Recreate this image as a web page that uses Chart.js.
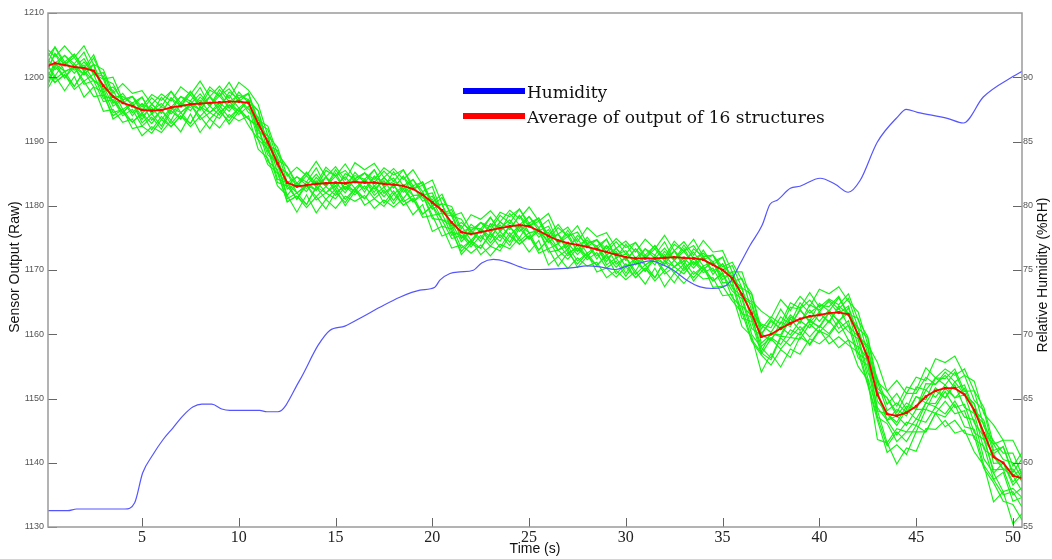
<!DOCTYPE html>
<html>
<head>
<meta charset="utf-8">
<script src="https://cdn.jsdelivr.net/npm/chart.js@4.4.0/dist/chart.umd.min.js"></script>
<style>
  html, body { margin: 0; padding: 0; background: #fff; }
  #chart { display: block; }
</style>
</head>
<body>
<canvas id="chart" width="1052" height="559"></canvas>
<script>
/* global Chart */

// time axis shared by the 16 structures and their average (s)
const timeS = [0.14,
  0.5, 1, 1.5, 2, 2.5, 3, 3.5, 4, 4.5, 5, 5.5, 6, 6.5, 7, 7.5, 8, 8.5, 9, 9.5, 10,
  10.5, 11, 11.5, 12, 12.5, 13, 13.5, 14, 14.5, 15, 15.5, 16, 16.5, 17, 17.5, 18, 18.5, 19, 19.5, 20,
  20.5, 21, 21.5, 22, 22.5, 23, 23.5, 24, 24.5, 25, 25.5, 26, 26.5, 27, 27.5, 28, 28.5, 29, 29.5, 30,
  30.5, 31, 31.5, 32, 32.5, 33, 33.5, 34, 34.5, 35, 35.5, 36, 36.5, 37, 37.5, 38, 38.5, 39, 39.5, 40,
  40.5, 41, 41.5, 42, 42.5, 43, 43.5, 44, 44.5, 45, 45.5, 46, 46.5, 47, 47.5, 48, 48.5, 49, 49.5, 50,
  50.47];

const avgOutput = [
  1201.8, 1202.2, 1201.9, 1201.6, 1201.4, 1201.0, 1198.7, 1197.0, 1196.0, 1195.5, 1194.9, 1194.8,
  1194.9, 1195.3, 1195.5, 1195.8, 1195.9, 1196.0, 1196.1, 1196.2, 1196.2, 1196.0, 1192.8, 1189.9,
  1186.6, 1183.6, 1183.0, 1183.2, 1183.4, 1183.5, 1183.6, 1183.5, 1183.7, 1183.6, 1183.6, 1183.4,
  1183.3, 1183.1, 1182.6, 1181.7, 1180.5, 1179.3, 1177.4, 1175.9, 1175.6, 1175.9, 1176.2, 1176.5,
  1176.8, 1177.0, 1176.8, 1176.1, 1175.3, 1174.6, 1174.2, 1173.9, 1173.6, 1173.2, 1172.8, 1172.4,
  1172.0, 1171.8, 1171.8, 1171.8, 1171.9, 1172.0, 1171.9, 1171.8, 1171.6, 1170.8, 1170.0, 1168.7,
  1166.2, 1163.2, 1159.6, 1160.0, 1160.9, 1161.7, 1162.4, 1162.8, 1163.0, 1163.3, 1163.4, 1163.1,
  1160.0, 1156.4, 1150.6, 1147.6, 1147.3, 1147.8, 1148.8, 1150.3, 1151.2, 1151.6, 1151.6, 1150.6,
  1148.2, 1144.6, 1140.9, 1140.0, 1138.0, 1137.6];

// raw output of each of the 16 structures
const g01 = [
  1204.3, 1203.2, 1204.9, 1203.1, 1204.9, 1202.0, 1201.2, 1197.5, 1199.0, 1197.5, 1197.9, 1195.8,
  1197.4, 1196.3, 1198.5, 1197.3, 1199.4, 1197.0, 1198.6, 1196.7, 1199.2, 1198.0, 1195.8, 1190.9,
  1189.1, 1184.6, 1186.0, 1184.7, 1186.9, 1184.5, 1186.1, 1184.0, 1186.7, 1185.6, 1186.6, 1184.4,
  1185.8, 1184.1, 1185.6, 1183.2, 1184.0, 1180.3, 1179.9, 1176.4, 1178.6, 1177.9, 1179.2, 1177.5,
  1179.3, 1178.0, 1179.8, 1177.6, 1178.8, 1175.6, 1176.7, 1174.4, 1176.6, 1175.2, 1175.8, 1173.4,
  1174.5, 1172.8, 1174.8, 1173.3, 1175.4, 1173.0, 1174.4, 1172.3, 1174.6, 1172.8, 1173.0, 1169.7,
  1169.7, 1165.2, 1163.6, 1162.5, 1165.4, 1163.7, 1165.9, 1164.3, 1167.0, 1166.3, 1167.4, 1165.1,
  1163.5, 1158.4, 1155.6, 1151.1, 1152.8, 1150.8, 1153.3, 1152.8, 1156.2, 1155.6, 1156.6, 1153.6,
  1152.7, 1147.6, 1145.9, 1143.5, 1143.5, 1140.6];
const g02 = [
  1203.3, 1204.7, 1202.4, 1203.6, 1201.4, 1203.5, 1199.7, 1200.0, 1196.5, 1197.0, 1195.4, 1197.3,
  1196.4, 1197.8, 1196.0, 1197.8, 1195.9, 1198.5, 1197.1, 1199.2, 1196.7, 1197.5, 1193.3, 1192.4,
  1188.1, 1186.1, 1183.5, 1185.2, 1183.4, 1186.0, 1184.6, 1186.5, 1184.2, 1185.1, 1184.1, 1185.9,
  1184.8, 1185.6, 1183.1, 1183.7, 1180.5, 1181.8, 1178.4, 1178.9, 1176.1, 1177.4, 1176.7, 1179.0,
  1178.3, 1179.5, 1177.3, 1178.1, 1175.3, 1177.1, 1175.2, 1176.9, 1174.1, 1174.7, 1173.3, 1174.9,
  1173.5, 1174.3, 1172.3, 1173.8, 1171.9, 1174.5, 1172.9, 1174.8, 1172.1, 1172.3, 1170.5, 1171.2,
  1168.4, 1166.4, 1160.8, 1162.7, 1161.6, 1164.9, 1164.1, 1166.5, 1164.2, 1165.5, 1164.6, 1166.3,
  1162.2, 1159.6, 1152.6, 1151.1, 1148.8, 1151.8, 1151.3, 1154.8, 1153.2, 1154.6, 1153.6, 1154.6,
  1151.2, 1148.6, 1142.9, 1143.5, 1139.5, 1141.6];
const g03 = [
  1202.3, 1204.7, 1201.9, 1203.1, 1200.9, 1203.0, 1199.7, 1199.0, 1196.0, 1197.0, 1194.9, 1196.8,
  1195.4, 1197.8, 1195.5, 1197.3, 1195.4, 1198.0, 1197.1, 1198.2, 1196.2, 1197.5, 1192.8, 1191.9,
  1187.1, 1186.1, 1183.0, 1184.7, 1182.9, 1185.5, 1184.6, 1185.5, 1183.7, 1185.1, 1183.6, 1185.4,
  1183.8, 1185.6, 1182.6, 1183.2, 1180.0, 1181.3, 1178.4, 1177.9, 1175.6, 1177.4, 1176.2, 1178.5,
  1177.3, 1179.5, 1176.8, 1177.6, 1174.8, 1176.6, 1175.2, 1175.9, 1173.6, 1174.7, 1172.8, 1174.4,
  1172.5, 1174.3, 1171.8, 1173.3, 1171.4, 1174.0, 1172.9, 1173.8, 1171.6, 1172.3, 1170.0, 1170.7,
  1167.2, 1166.2, 1160.1, 1162.0, 1160.9, 1164.2, 1163.9, 1165.3, 1163.5, 1165.3, 1163.9, 1165.6,
  1161.0, 1159.4, 1151.6, 1150.1, 1147.8, 1150.8, 1150.8, 1153.3, 1152.2, 1154.1, 1152.6, 1153.6,
  1149.7, 1148.1, 1141.9, 1142.5, 1138.5, 1140.6];
const g04 = [
  1203.8, 1202.2, 1203.4, 1202.1, 1203.9, 1200.5, 1200.7, 1197.0, 1197.0, 1196.0, 1196.9, 1194.3,
  1196.9, 1195.3, 1197.0, 1196.3, 1198.4, 1195.5, 1198.1, 1196.2, 1197.2, 1196.5, 1194.8, 1189.4,
  1188.6, 1183.6, 1184.5, 1183.7, 1185.9, 1183.0, 1185.6, 1183.5, 1184.7, 1184.1, 1185.6, 1182.9,
  1185.3, 1183.1, 1184.1, 1182.2, 1183.0, 1178.8, 1179.4, 1175.9, 1176.6, 1176.4, 1178.2, 1176.0,
  1178.8, 1177.0, 1178.3, 1176.6, 1177.8, 1174.1, 1176.2, 1173.9, 1174.6, 1173.7, 1174.8, 1171.9,
  1174.0, 1171.8, 1173.3, 1172.3, 1174.4, 1171.5, 1173.9, 1171.8, 1172.6, 1171.3, 1172.0, 1168.2,
  1168.7, 1163.7, 1161.6, 1161.0, 1163.9, 1161.7, 1164.9, 1163.3, 1164.5, 1164.3, 1165.9, 1163.1,
  1162.5, 1156.9, 1153.1, 1149.1, 1150.8, 1148.3, 1151.8, 1151.3, 1153.2, 1153.1, 1154.6, 1151.1,
  1151.2, 1145.6, 1143.4, 1141.5, 1141.5, 1138.1];
const g05 = [
  1201.3, 1203.7, 1201.9, 1203.6, 1200.9, 1202.0, 1197.7, 1198.5, 1196.5, 1197.0, 1194.4, 1195.8,
  1194.4, 1196.8, 1195.5, 1197.8, 1195.4, 1197.0, 1195.1, 1197.7, 1196.7, 1197.5, 1192.3, 1190.9,
  1186.1, 1185.1, 1183.0, 1185.2, 1182.9, 1184.5, 1182.6, 1185.0, 1184.2, 1185.1, 1183.1, 1184.4,
  1182.8, 1184.6, 1182.6, 1183.7, 1180.0, 1180.3, 1176.4, 1177.4, 1176.1, 1177.4, 1175.7, 1177.5,
  1176.3, 1178.5, 1176.8, 1178.1, 1174.8, 1175.6, 1173.2, 1175.4, 1174.1, 1174.7, 1172.3, 1173.4,
  1171.5, 1173.3, 1171.8, 1173.8, 1171.4, 1173.0, 1170.9, 1173.3, 1172.1, 1172.3, 1169.5, 1169.7,
  1166.0, 1165.0, 1159.9, 1162.3, 1160.7, 1163.0, 1161.7, 1164.6, 1163.8, 1165.1, 1163.2, 1164.4,
  1159.8, 1158.2, 1151.1, 1150.1, 1147.3, 1149.3, 1148.3, 1152.3, 1152.2, 1153.6, 1151.6, 1152.1,
  1148.2, 1146.6, 1141.4, 1142.5, 1138.0, 1139.1];
const g06 = [
  1201.3, 1203.7, 1200.9, 1201.6, 1200.4, 1202.0, 1198.2, 1198.0, 1195.0, 1196.0, 1193.4, 1195.8,
  1194.4, 1196.8, 1194.5, 1195.8, 1194.9, 1197.0, 1195.6, 1197.2, 1195.2, 1196.5, 1191.3, 1190.9,
  1186.1, 1185.1, 1182.0, 1183.2, 1182.4, 1184.5, 1183.1, 1184.5, 1182.7, 1184.1, 1182.1, 1184.4,
  1182.8, 1184.6, 1181.6, 1181.7, 1179.5, 1180.3, 1176.9, 1176.9, 1174.6, 1176.4, 1174.7, 1177.5,
  1176.3, 1178.5, 1175.8, 1176.1, 1174.3, 1175.6, 1173.7, 1174.9, 1172.6, 1173.7, 1171.3, 1173.4,
  1171.5, 1173.3, 1170.8, 1171.8, 1170.9, 1173.0, 1171.4, 1172.8, 1170.6, 1171.3, 1168.5, 1169.7,
  1165.7, 1164.7, 1158.6, 1160.0, 1159.9, 1162.7, 1161.9, 1163.8, 1162.0, 1163.8, 1161.9, 1164.1,
  1159.5, 1157.9, 1149.6, 1147.6, 1146.3, 1148.8, 1148.3, 1151.3, 1150.2, 1152.1, 1150.1, 1151.6,
  1147.7, 1146.1, 1139.9, 1140.0, 1137.0, 1138.6];
const g07 = [
  1202.8, 1201.2, 1202.4, 1200.6, 1202.4, 1200.5, 1200.2, 1196.0, 1196.5, 1194.0, 1195.9, 1194.8,
  1195.9, 1194.3, 1196.0, 1194.8, 1196.9, 1195.5, 1197.6, 1195.2, 1196.7, 1194.5, 1193.8, 1189.9,
  1187.6, 1182.6, 1183.5, 1182.2, 1184.4, 1183.0, 1185.1, 1182.5, 1184.2, 1182.1, 1184.6, 1183.4,
  1184.3, 1182.1, 1183.1, 1180.7, 1181.5, 1178.8, 1178.9, 1174.9, 1176.1, 1174.4, 1177.2, 1176.5,
  1177.8, 1176.0, 1177.3, 1175.1, 1176.3, 1174.1, 1175.7, 1172.9, 1174.1, 1171.7, 1173.8, 1172.4,
  1173.0, 1170.8, 1172.3, 1170.8, 1172.9, 1171.5, 1173.4, 1170.8, 1172.1, 1169.3, 1171.0, 1168.7,
  1167.2, 1162.2, 1160.1, 1159.0, 1161.9, 1161.2, 1163.9, 1161.8, 1163.5, 1161.8, 1164.4, 1163.1,
  1161.0, 1155.4, 1151.1, 1146.6, 1148.3, 1147.3, 1150.3, 1149.3, 1151.7, 1150.1, 1152.6, 1150.6,
  1149.2, 1143.6, 1141.4, 1139.0, 1139.0, 1137.1];
const g08 = [
  1200.3, 1202.2, 1199.9, 1202.1, 1200.4, 1202.0, 1197.2, 1196.5, 1194.5, 1196.0, 1193.9, 1195.3,
  1193.4, 1195.3, 1193.5, 1196.3, 1194.9, 1197.0, 1194.6, 1195.7, 1194.7, 1196.5, 1191.8, 1190.4,
  1185.1, 1183.6, 1181.0, 1183.7, 1182.4, 1184.5, 1182.1, 1183.0, 1182.2, 1184.1, 1182.6, 1183.9,
  1181.8, 1183.1, 1180.6, 1182.2, 1179.5, 1180.3, 1175.9, 1175.4, 1174.1, 1176.4, 1175.2, 1177.0,
  1175.3, 1177.0, 1174.8, 1176.6, 1174.3, 1175.6, 1172.7, 1173.4, 1172.1, 1173.7, 1171.8, 1172.9,
  1170.5, 1171.8, 1169.8, 1172.3, 1170.9, 1173.0, 1170.4, 1171.3, 1170.1, 1171.3, 1169.0, 1169.2,
  1164.4, 1162.9, 1157.3, 1160.2, 1159.6, 1162.4, 1160.6, 1162.0, 1161.2, 1163.5, 1162.1, 1163.3,
  1158.2, 1156.1, 1148.1, 1147.6, 1145.8, 1148.3, 1146.8, 1149.3, 1149.2, 1151.6, 1150.1, 1150.6,
  1146.2, 1144.1, 1138.4, 1140.0, 1136.5, 1138.1];
const g09 = [
  1199.3, 1202.2, 1200.9, 1201.6, 1199.4, 1200.5, 1196.7, 1197.0, 1194.5, 1196.0, 1192.9, 1194.3,
  1192.4, 1195.3, 1194.5, 1195.8, 1193.9, 1195.5, 1194.1, 1196.2, 1194.7, 1196.5, 1190.8, 1189.4,
  1184.1, 1183.6, 1182.0, 1183.2, 1181.4, 1183.0, 1181.6, 1183.5, 1182.2, 1184.1, 1181.6, 1182.9,
  1180.8, 1183.1, 1181.6, 1181.7, 1178.5, 1178.8, 1175.4, 1175.9, 1174.1, 1176.4, 1174.2, 1176.0,
  1174.3, 1177.0, 1175.8, 1176.1, 1173.3, 1174.1, 1172.2, 1173.9, 1172.1, 1173.7, 1170.8, 1171.9,
  1169.5, 1171.8, 1170.8, 1171.8, 1169.9, 1171.5, 1169.9, 1171.8, 1170.1, 1171.3, 1168.0, 1168.2,
  1163.2, 1162.7, 1158.1, 1159.5, 1158.4, 1160.7, 1159.9, 1162.3, 1161.0, 1163.3, 1160.9, 1162.1,
  1157.0, 1155.9, 1148.6, 1146.6, 1144.3, 1146.3, 1145.8, 1149.3, 1148.7, 1151.1, 1148.6, 1149.1,
  1144.7, 1143.6, 1138.9, 1139.0, 1135.0, 1136.1];
const g10 = [
  1198.8, 1201.7, 1199.9, 1201.6, 1198.9, 1199.5, 1196.2, 1196.5, 1194.0, 1195.0, 1192.4, 1193.8,
  1191.9, 1194.8, 1193.5, 1195.8, 1193.4, 1194.5, 1193.6, 1195.7, 1194.2, 1195.5, 1190.3, 1188.9,
  1183.6, 1183.1, 1181.0, 1183.2, 1180.9, 1182.0, 1181.1, 1183.0, 1181.7, 1183.1, 1181.1, 1182.4,
  1180.3, 1182.6, 1180.6, 1181.7, 1178.0, 1177.8, 1174.9, 1175.4, 1173.6, 1175.4, 1173.7, 1175.5,
  1173.8, 1176.5, 1174.8, 1176.1, 1172.8, 1173.1, 1171.7, 1173.4, 1171.6, 1172.7, 1170.3, 1171.4,
  1169.0, 1171.3, 1169.8, 1171.8, 1169.4, 1170.5, 1169.4, 1171.3, 1169.6, 1170.3, 1167.5, 1167.7,
  1162.5, 1162.0, 1156.9, 1159.3, 1157.7, 1159.5, 1159.2, 1161.6, 1160.3, 1162.1, 1160.2, 1161.4,
  1156.3, 1155.2, 1147.1, 1146.1, 1143.3, 1144.8, 1144.8, 1148.3, 1147.7, 1149.6, 1147.6, 1148.1,
  1143.7, 1142.6, 1137.4, 1138.5, 1134.0, 1134.6];
const g11 = [
  1200.8, 1199.2, 1200.4, 1198.6, 1200.9, 1198.5, 1197.7, 1193.5, 1194.5, 1193.0, 1194.4, 1191.8,
  1193.9, 1192.3, 1194.0, 1192.8, 1195.4, 1193.5, 1195.1, 1192.7, 1194.7, 1193.5, 1192.3, 1186.9,
  1185.6, 1180.6, 1181.5, 1180.2, 1182.9, 1181.0, 1182.6, 1180.0, 1182.2, 1181.1, 1183.1, 1180.4,
  1182.3, 1180.1, 1181.1, 1178.7, 1180.0, 1176.8, 1176.4, 1172.4, 1174.1, 1173.4, 1175.7, 1173.5,
  1175.8, 1174.0, 1175.3, 1173.1, 1174.8, 1172.1, 1173.2, 1170.4, 1172.1, 1170.7, 1172.3, 1169.4,
  1171.0, 1168.8, 1170.3, 1168.8, 1171.4, 1169.5, 1170.9, 1168.3, 1170.1, 1168.3, 1169.5, 1165.7,
  1164.2, 1159.2, 1157.1, 1156.0, 1159.4, 1158.2, 1160.4, 1158.3, 1160.5, 1159.8, 1161.9, 1159.1,
  1158.0, 1152.4, 1147.1, 1142.6, 1144.8, 1143.3, 1145.8, 1144.8, 1147.7, 1147.1, 1149.1, 1145.6,
  1145.2, 1139.6, 1137.4, 1135.0, 1135.5, 1133.1];
const g12 = [
  1200.3, 1199.2, 1200.4, 1198.1, 1199.4, 1197.0, 1197.2, 1194.0, 1195.0, 1192.0, 1192.4, 1191.3,
  1193.4, 1192.3, 1194.0, 1192.3, 1193.9, 1192.0, 1194.6, 1193.2, 1195.2, 1192.5, 1190.3, 1186.4,
  1185.1, 1180.6, 1181.5, 1179.7, 1181.4, 1179.5, 1182.1, 1180.5, 1182.7, 1180.1, 1181.1, 1179.9,
  1181.8, 1180.1, 1181.1, 1178.2, 1178.5, 1175.3, 1175.9, 1172.9, 1174.6, 1172.4, 1173.7, 1173.0,
  1175.3, 1174.0, 1175.3, 1172.6, 1173.3, 1170.6, 1172.7, 1170.9, 1172.6, 1169.7, 1170.3, 1168.9,
  1170.5, 1168.8, 1170.3, 1168.3, 1169.9, 1168.0, 1170.4, 1168.8, 1170.6, 1167.3, 1167.5, 1165.2,
  1163.4, 1158.9, 1156.8, 1155.2, 1157.6, 1156.4, 1159.6, 1158.5, 1160.7, 1158.5, 1159.6, 1158.3,
  1157.2, 1152.1, 1146.6, 1141.6, 1142.8, 1141.3, 1144.8, 1144.8, 1147.7, 1145.6, 1146.6, 1144.6,
  1144.2, 1139.1, 1136.9, 1134.0, 1133.5, 1131.1];
const g13 = [
  1198.3, 1200.2, 1197.9, 1200.1, 1196.9, 1198.5, 1194.7, 1195.0, 1193.0, 1193.5, 1190.9, 1192.3,
  1191.4, 1193.3, 1191.5, 1194.3, 1191.4, 1193.5, 1192.1, 1194.2, 1193.2, 1194.0, 1188.8, 1187.4,
  1183.1, 1181.6, 1179.0, 1181.7, 1178.9, 1181.0, 1179.6, 1181.5, 1180.7, 1181.6, 1179.6, 1180.9,
  1179.8, 1181.1, 1178.6, 1180.2, 1176.0, 1176.8, 1173.4, 1173.9, 1172.6, 1173.9, 1172.2, 1174.0,
  1173.3, 1175.0, 1172.8, 1174.6, 1170.8, 1172.1, 1170.2, 1171.9, 1170.6, 1171.2, 1168.8, 1169.9,
  1168.5, 1169.8, 1167.8, 1170.3, 1167.4, 1169.5, 1167.9, 1169.8, 1168.6, 1168.8, 1166.0, 1166.2,
  1161.2, 1159.7, 1154.1, 1157.0, 1154.9, 1157.7, 1156.9, 1159.3, 1158.5, 1159.8, 1157.9, 1159.1,
  1155.0, 1152.9, 1143.6, 1143.1, 1139.8, 1142.3, 1141.8, 1145.3, 1145.2, 1146.6, 1144.6, 1145.1,
  1141.7, 1139.6, 1133.9, 1135.5, 1130.5, 1132.1];
const g14 = [
  1202.3, 1201.7, 1203.4, 1201.6, 1202.9, 1200.5, 1199.7, 1196.0, 1197.5, 1195.5, 1196.9, 1194.3,
  1195.4, 1194.8, 1197.0, 1195.8, 1197.4, 1195.5, 1197.1, 1195.2, 1197.7, 1196.0, 1194.8, 1189.4,
  1187.1, 1183.1, 1184.5, 1183.2, 1184.9, 1183.0, 1184.6, 1182.5, 1185.2, 1183.6, 1185.6, 1182.9,
  1183.8, 1182.6, 1184.1, 1181.7, 1182.0, 1178.8, 1178.4, 1174.9, 1177.1, 1175.9, 1178.2, 1176.0,
  1177.3, 1176.5, 1178.3, 1176.1, 1176.8, 1174.1, 1175.2, 1172.9, 1175.1, 1173.2, 1174.8, 1171.9,
  1172.5, 1171.3, 1173.3, 1171.8, 1173.4, 1171.5, 1172.9, 1170.8, 1173.1, 1170.8, 1172.0, 1168.2,
  1167.0, 1163.0, 1161.4, 1160.3, 1162.7, 1161.5, 1163.7, 1162.1, 1164.8, 1163.6, 1165.7, 1162.9,
  1160.8, 1156.2, 1152.6, 1148.1, 1149.3, 1147.8, 1150.3, 1149.8, 1153.2, 1152.1, 1154.1, 1150.6,
  1149.2, 1144.6, 1142.9, 1140.5, 1140.0, 1137.6];
const g15 = [
  1201.8, 1200.2, 1202.4, 1201.1, 1201.9, 1199.5, 1198.7, 1195.5, 1196.5, 1194.5, 1195.9, 1193.3,
  1194.9, 1193.3, 1196.0, 1195.3, 1196.4, 1194.5, 1196.1, 1194.7, 1196.7, 1195.0, 1193.8, 1188.4,
  1186.6, 1181.6, 1183.5, 1182.7, 1183.9, 1182.0, 1183.6, 1182.0, 1184.2, 1182.6, 1184.6, 1181.9,
  1183.3, 1181.1, 1183.1, 1181.2, 1181.0, 1177.8, 1177.4, 1174.4, 1176.1, 1174.9, 1177.2, 1175.0,
  1176.8, 1175.0, 1177.3, 1175.6, 1175.8, 1173.1, 1174.2, 1172.4, 1174.1, 1172.2, 1173.8, 1170.9,
  1172.0, 1169.8, 1172.3, 1171.3, 1172.4, 1170.5, 1171.9, 1170.3, 1172.1, 1169.8, 1171.0, 1167.2,
  1165.9, 1160.9, 1159.8, 1159.2, 1161.1, 1159.9, 1162.1, 1161.0, 1163.2, 1162.0, 1164.1, 1161.3,
  1159.7, 1154.1, 1150.6, 1146.6, 1147.3, 1145.8, 1148.3, 1148.3, 1151.2, 1150.1, 1152.1, 1148.6,
  1147.7, 1142.1, 1140.9, 1139.0, 1138.0, 1135.6];
const g16 = [
  1201.8, 1199.7, 1200.9, 1198.6, 1200.9, 1199.5, 1198.2, 1194.5, 1195.0, 1193.0, 1194.4, 1192.8,
  1194.9, 1192.8, 1194.5, 1192.8, 1195.4, 1194.5, 1195.6, 1193.7, 1195.2, 1193.5, 1192.3, 1187.9,
  1186.6, 1181.1, 1182.0, 1180.2, 1182.9, 1182.0, 1183.1, 1181.0, 1182.7, 1181.1, 1183.1, 1181.4,
  1183.3, 1180.6, 1181.6, 1178.7, 1180.0, 1177.8, 1176.9, 1173.4, 1174.6, 1173.4, 1175.7, 1174.5,
  1176.8, 1174.5, 1175.8, 1173.1, 1174.8, 1173.1, 1173.7, 1171.4, 1172.6, 1170.7, 1172.3, 1170.4,
  1172.0, 1169.3, 1170.8, 1168.8, 1171.4, 1170.5, 1171.4, 1169.3, 1170.6, 1168.3, 1169.5, 1166.7,
  1165.5, 1160.0, 1157.9, 1156.3, 1159.7, 1159.5, 1161.2, 1159.6, 1161.3, 1160.1, 1162.2, 1160.4,
  1159.3, 1153.2, 1148.1, 1143.1, 1145.3, 1144.8, 1146.8, 1146.3, 1148.7, 1147.6, 1149.6, 1147.1,
  1146.7, 1140.6, 1138.4, 1135.5, 1136.0, 1134.6];

const structures = [g01, g02, g03, g04, g05, g06, g07, g08, g09, g10, g11, g12, g13, g14, g15, g16];

// humidity (right axis)
const humTime = [0.14, 1.16, 1.62, 4.11, 4.62, 5.03, 5.55, 6.07, 6.59, 7.10, 7.62, 8.09, 8.60, 9.12,
  9.53, 11.08, 11.45, 12.02, 13.15, 14.1, 14.7, 15.48, 16.26, 17.29, 18.32, 19.36, 20.13, 20.39,
  20.91, 21.43, 22.12, 22.55, 23.15, 23.84, 24.53, 25.05, 25.56, 26.43, 27.29, 27.98, 28.67, 29.44,
  30.05, 30.74, 31.25, 31.77, 32.46, 33.15, 33.84, 34.52, 34.96, 35.39, 35.91, 36.42, 37.04, 37.45,
  37.82, 38.5, 39.0, 40.04, 40.82, 41.49, 42.11, 42.99, 44.02, 44.49, 45.06, 46.61, 47.44, 48.47,
  50.02, 50.47];
const humRH = [56.27, 56.27, 56.40, 56.40, 56.89, 59.20, 60.60, 61.77, 62.70, 63.63, 64.33, 64.56,
  64.56, 64.18, 64.07, 64.07, 63.97, 63.97, 66.43, 69.15, 70.3, 70.63, 71.25, 72.1, 72.88, 73.43,
  73.66, 74.21, 74.73, 74.85, 74.98, 75.55, 75.82, 75.63, 75.24, 75.04, 75.04, 75.09, 75.19, 75.32,
  75.24, 75.04, 75.30, 75.55, 75.71, 75.50, 74.98, 74.21, 73.69, 73.56, 73.64, 74.07, 75.50, 76.93,
  78.48, 80.12, 80.43, 81.36, 81.52, 82.14, 81.67, 81.05, 81.98, 84.94, 86.88, 87.5, 87.27, 86.8,
  86.44, 88.46, 90.07, 90.46];

const xTicks = [5, 10, 15, 20, 25, 30, 35, 40, 45, 50];
const leftTicks = [1130, 1140, 1150, 1160, 1170, 1180, 1190, 1200, 1210];
const rightTicks = [55, 60, 65, 70, 75, 80, 85, 90];

const legendItems = [
  { label: "Humidity", color: "#0000ff" },
  { label: "Average of output of 16 structures", color: "#ff0000" }
];

const toPoints = (xs, ys) => xs.map((x, i) => ({ x, y: ys[i] }));
const setTicks = (values) => (scale) => { scale.ticks = values.map((v) => ({ value: v })); };
const plainLabel = (v) => String(v);

const chartDecor = {
  id: "chartDecor",
  afterDatasetsDraw(chart) {
    const { ctx, chartArea: a, scales } = chart;
    ctx.save();
    // tick marks point inward, like the original
    ctx.strokeStyle = "#666";
    ctx.lineWidth = 1;
    ctx.beginPath();
    for (const t of scales.x.ticks) {
      const px = Math.round(scales.x.getPixelForValue(t.value)) + 0.5;
      ctx.moveTo(px, a.bottom);
      ctx.lineTo(px, a.bottom - 9);
    }
    for (const t of scales.yL.ticks) {
      const py = Math.round(scales.yL.getPixelForValue(t.value)) + 0.5;
      ctx.moveTo(a.left, py);
      ctx.lineTo(a.left + 9, py);
    }
    for (const t of scales.yR.ticks) {
      const py = Math.round(scales.yR.getPixelForValue(t.value)) + 0.5;
      ctx.moveTo(a.right, py);
      ctx.lineTo(a.right - 9, py);
    }
    ctx.stroke();
    ctx.strokeStyle = "#9a9a9a";
    ctx.lineWidth = 1.5;
    ctx.strokeRect(a.left, a.top, a.right - a.left, a.bottom - a.top);
    ctx.restore();
  },
  afterDraw(chart) {
    const { ctx, chartArea: a } = chart;
    ctx.save();
    ctx.fillStyle = "#111";
    ctx.font = "14px 'Liberation Sans', Arial, sans-serif";
    ctx.textAlign = "center";
    ctx.textBaseline = "middle";
    ctx.fillText("Time (s)", (a.left + a.right) / 2, 549);

    ctx.save();
    ctx.translate(15, 267);
    ctx.rotate(-Math.PI / 2);
    ctx.fillText("Sensor Output (Raw)", 0, 0);
    ctx.restore();

    ctx.save();
    ctx.translate(1043, 275);
    ctx.rotate(-Math.PI / 2);
    ctx.fillText("Relative Humidity (%RH)", 0, 0);
    ctx.restore();

    // legend
    ctx.textAlign = "left";
    ctx.textBaseline = "alphabetic";
    ctx.font = "17px 'DejaVu Serif', serif";
    legendItems.forEach((item, i) => {
      const y = 91 + i * 25;
      ctx.strokeStyle = item.color;
      ctx.lineWidth = 6;
      ctx.beginPath();
      ctx.moveTo(463, y);
      ctx.lineTo(525, y);
      ctx.stroke();
      ctx.fillStyle = "#111";
      ctx.fillText(item.label, 527, y + 7);
    });
    ctx.restore();
  }
};

const datasets = [
  {
    label: "Average of output of 16 structures",
    data: toPoints(timeS, avgOutput),
    yAxisID: "yL",
    borderColor: "#ff0000",
    backgroundColor: "#ff0000",
    borderWidth: 1.8,
    pointRadius: 1.8,
    pointStyle: "rect",
    pointBorderWidth: 0,
    order: 0
  },
  {
    label: "Humidity",
    data: toPoints(humTime, humRH),
    yAxisID: "yR",
    borderColor: "rgb(85, 85, 255)",
    borderWidth: 1.2,
    pointRadius: 0,
    cubicInterpolationMode: "monotone",
    order: 1
  },
  ...structures.map((s, i) => ({
    label: `Structure ${i + 1}`,
    data: toPoints(timeS, s),
    yAxisID: "yL",
    borderColor: "rgb(20, 242, 20)",
    borderWidth: 1.15,
    pointRadius: 0,
    order: 2
  }))
];

const tickFontSans = { family: "'Liberation Sans', Arial, sans-serif", size: 9 };

new Chart(document.getElementById("chart").getContext("2d"), {
  type: "line",
  data: { datasets },
  options: {
    responsive: false,
    animation: false,
    layout: { padding: { top: 13, left: 0, right: 0, bottom: 0 } },
    plugins: { legend: { display: false }, tooltip: { enabled: false } },
    scales: {
      x: {
        type: "linear",
        min: 0.14,
        max: 50.47,
        grid: { display: false, drawTicks: false, tickLength: 0 },
        border: { display: false },
        afterBuildTicks: setTicks(xTicks),
        afterFit: (s) => { s.height = 32; },
        ticks: {
          autoSkip: false,
          maxRotation: 0,
          padding: 1,
          color: "#222",
          callback: plainLabel,
          font: { family: "'Liberation Serif', serif", size: 16 }
        }
      },
      yL: {
        position: "left",
        min: 1130,
        max: 1210,
        grid: { display: false, drawTicks: false, tickLength: 0 },
        border: { display: false },
        afterBuildTicks: setTicks(leftTicks),
        afterFit: (s) => { s.width = 48; },
        ticks: { padding: 4, color: "#555", callback: plainLabel, font: tickFontSans }
      },
      yR: {
        position: "right",
        min: 55,
        max: 95,
        grid: { display: false, drawTicks: false, tickLength: 0 },
        border: { display: false },
        afterBuildTicks: setTicks(rightTicks),
        afterFit: (s) => { s.width = 30; },
        ticks: { padding: 1, color: "#555", callback: plainLabel, font: tickFontSans }
      }
    }
  },
  plugins: [chartDecor]
});
</script>
</body>
</html>
